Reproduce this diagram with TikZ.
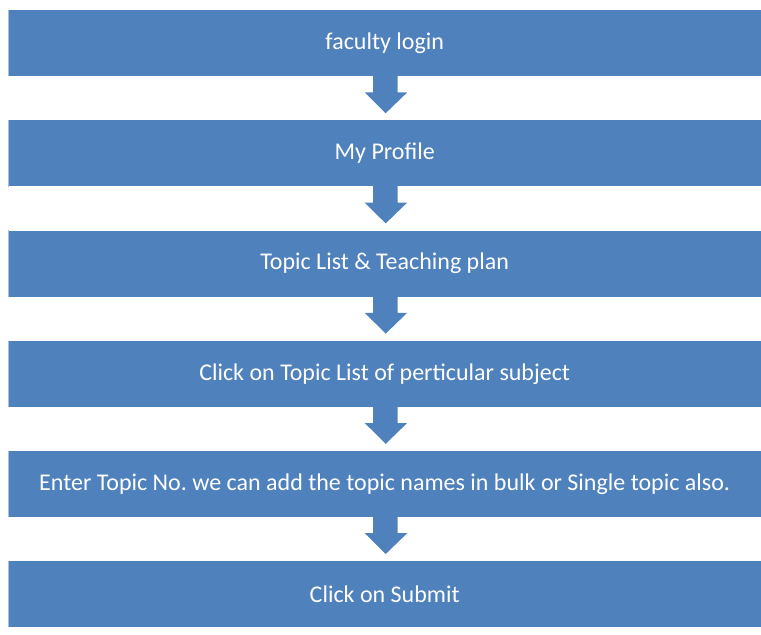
\documentclass[tikz,border=0pt]{standalone}
\usepackage{fontspec}
\setmainfont{Carlito}
\usetikzlibrary{calc}
\frenchspacing
\definecolor{boxblue}{HTML}{4F81BD}
\definecolor{edgeblue}{HTML}{A9C0DD}
\begin{document}
\begin{tikzpicture}[x=1pt,y=-1pt,
  stepbox/.style={fill=boxblue, draw=none, minimum width=753pt, minimum height=66pt, inner sep=0pt, text=white, font=\fontsize{24}{28}\selectfont, anchor=north west},
  blockarrow/.style={fill=boxblue, draw=none}]
\useasboundingbox (0,0) rectangle (761,635);
\foreach \i/\t in {0/{faculty login},1/{My Profile},2/{Topic List \& Teaching plan},3/{Click on Topic List of perticular subject},4/{Enter Topic No. we can add the topic names in bulk or Single topic also.},5/{Click on Submit}}{
  \node[stepbox] (b\i) at (8,{10+110.2*\i}) {\frenchspacing\t};
  \draw[edgeblue, line width=1pt] ($(b\i.north west)+(0.5,0)$) -- ($(b\i.south west)+(0.5,0)$);
}
\foreach \i [evaluate=\i as \j using int(\i+1)] in {0,...,4}{
  \path (b\i.south) coordinate (s\i) (b\j.north) coordinate (t\i);
  \fill[blockarrow] ($(s\i)+(-11.5,-1)$) -- ($(s\i)+(13,-1)$) -- ($(s\i)+(13,16)$) -- ($(s\i)+(22.5,16)$) -- ($(t\i)+(1,-7)$) -- ($(s\i)+(-20,16)$) -- ($(s\i)+(-11.5,16)$) -- cycle;
}
\end{tikzpicture}
\end{document}
